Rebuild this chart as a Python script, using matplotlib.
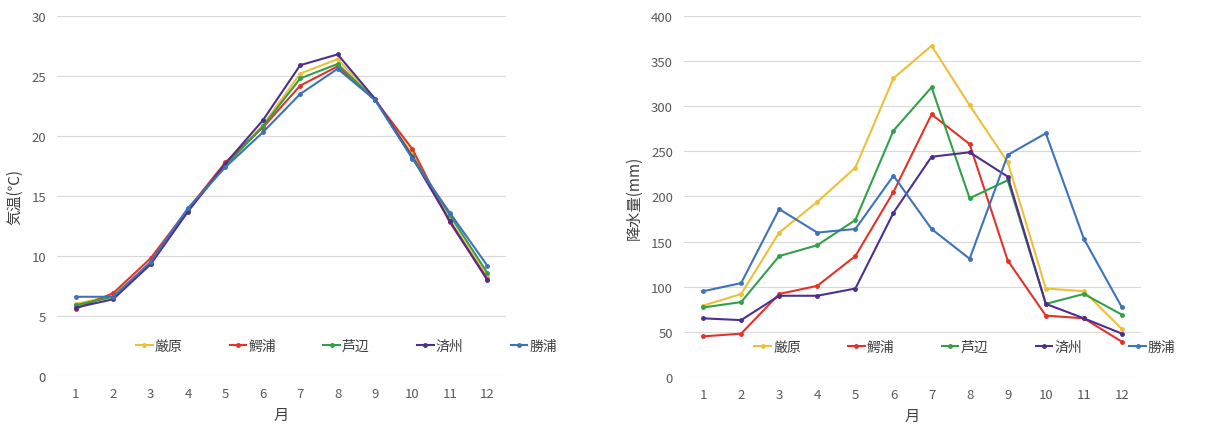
import matplotlib
matplotlib.use("Agg")
import matplotlib.pyplot as plt

plt.rcParams['font.family'] = ['Noto Sans CJK JP', 'DejaVu Sans']

months = [str(m) for m in range(1, 13)]
stations = ["厳原", "鰐浦", "芦辺", "済州", "勝浦"]
colors = ["#EDC03A", "#E2332B", "#33A049", "#4E2F8C", "#3F73B9"]

temp_izuhara = [6.0, 6.7, 9.4, 13.8, 17.6, 20.9, 25.2, 26.4, 23.0, 18.5, 13.0, 8.3]
temp_waniura = [5.6, 6.9, 9.8, 13.9, 17.8, 20.7, 24.2, 25.8, 23.0, 18.9, 12.8, 8.1]
temp_ashibe = [5.9, 6.6, 9.4, 13.8, 17.5, 20.8, 24.8, 26.0, 23.0, 18.3, 13.4, 8.6]
temp_jeju = [5.7, 6.4, 9.3, 13.7, 17.7, 21.3, 25.9, 26.8, 23.1, 18.2, 12.9, 8.0]
temp_katsuura = [6.6, 6.6, 9.5, 14.0, 17.4, 20.3, 23.5, 25.6, 23.0, 18.1, 13.6, 9.2]

rain_izuhara = [79, 92, 160, 194, 232, 331, 367, 301, 238, 98, 95, 53]
rain_waniura = [45, 48, 92, 101, 134, 205, 291, 258, 129, 68, 65, 39]
rain_ashibe = [77, 83, 134, 146, 174, 273, 321, 198, 218, 81, 92, 69]
rain_jeju = [65, 63, 90, 90, 98, 182, 244, 249, 222, 81, 65, 48]
rain_katsuura = [95, 104, 186, 160, 164, 223, 164, 131, 246, 270, 153, 77]

temps = [temp_izuhara, temp_waniura, temp_ashibe, temp_jeju, temp_katsuura]
rains = [rain_izuhara, rain_waniura, rain_ashibe, rain_jeju, rain_katsuura]

fig = plt.figure(figsize=(12.21, 4.31), dpi=100)
ax1 = fig.add_axes([0.0467, 0.1253, 0.3677, 0.8353])
ax2 = fig.add_axes([0.5602, 0.1230, 0.3743, 0.8376])

def style(ax, data, ymax, ystep, ylabel, legx):
    x = list(range(len(months)))
    for name, vals, c in zip(stations, data, colors):
        ax.plot(x, vals, color=c, lw=1.5, marker='o', ms=2.5, label=name)
    ax.set_xlim(-0.5, len(months) - 0.5)
    ax.set_ylim(0, ymax)
    ax.set_xticks(x)
    ax.set_xticklabels(months)
    ax.set_yticks(range(0, ymax + 1, ystep))
    ax.grid(axis='y', color='#D9D9D9', lw=0.8)
    ax.set_axisbelow(True)
    for s in ax.spines.values():
        s.set_visible(False)
    ax.tick_params(length=0, colors='#595959', labelsize=9.5, pad=8)
    ax.set_ylabel(ylabel, fontsize=11, color='#404040', labelpad=6)
    ax.set_xlabel("月", fontsize=11, color='#404040', labelpad=4)
    leg = ax.legend(loc='lower center', bbox_to_anchor=(legx, 0.03), ncol=5,
                    frameon=False, fontsize=10, handlelength=1.2,
                    handletextpad=0.15, columnspacing=3.4, labelcolor='#404040')
    leg.set_clip_on(False)

style(ax1, temps, 30, 5, "気温(℃)", 0.645)
style(ax2, rains, 400, 50, "降水量(mm)", 0.615)

fig.savefig("out.png", dpi=100, facecolor='white')
